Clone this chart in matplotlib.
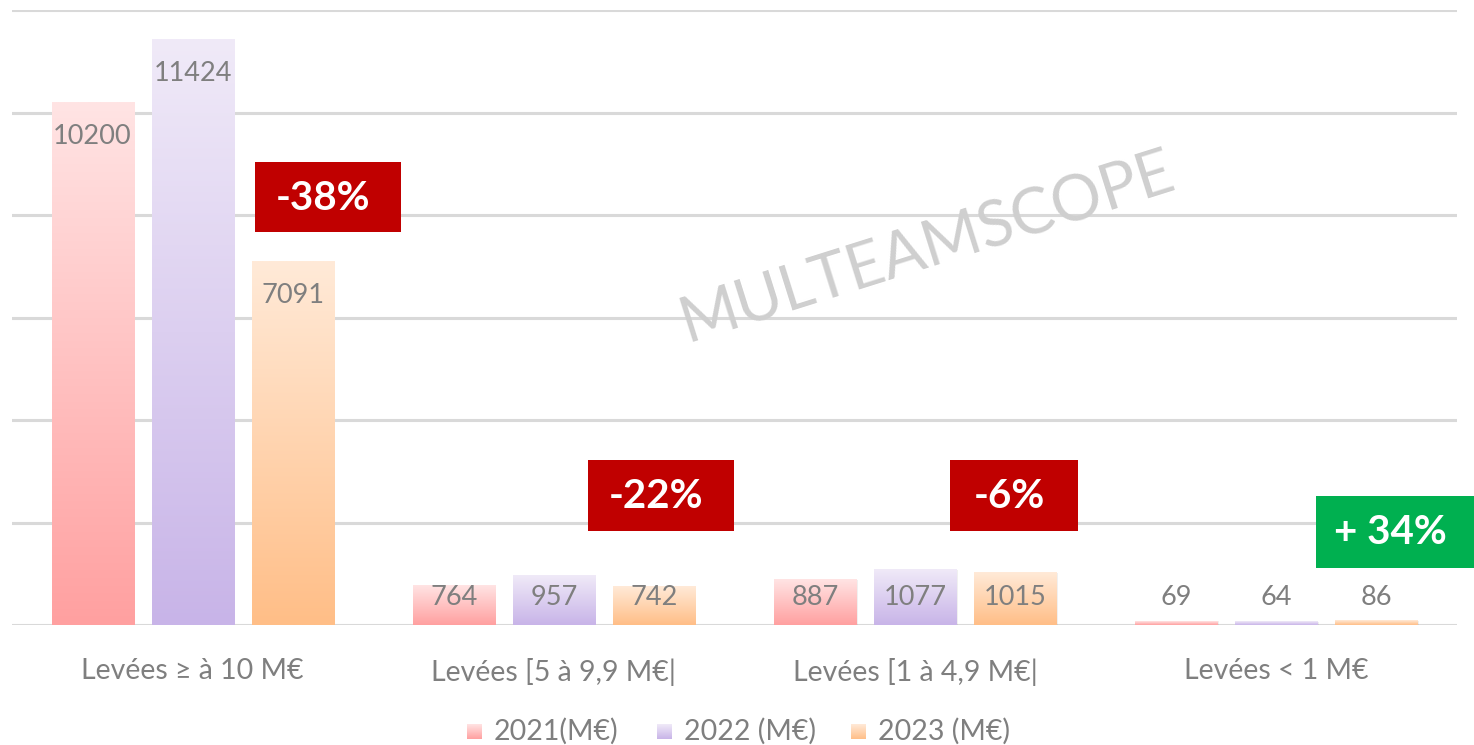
import matplotlib
matplotlib.use("Agg")
import matplotlib.pyplot as plt
import numpy as np
from matplotlib.colors import LinearSegmentedColormap
from matplotlib.patches import Rectangle

categories = ["Levées ≥ à 10 M€", "Levées [5 à 9,9 M€|", "Levées [1 à 4,9 M€|", "Levées < 1 M€"]
series_names = ["2021(M€)", "2022 (M€)", "2023 (M€)"]
v2021 = [10200, 764, 887, 69]
v2022 = [11424, 957, 1077, 64]
v2023 = [7091, 742, 1015, 86]
changes = ["-38%", "-22%", "-6%", "+ 34%"]

series = [v2021, v2022, v2023]
top_colors = ["#FFE4E4", "#F0EAF8", "#FFEAD8"]
bot_colors = ["#FFA0A0", "#C8B4E8", "#FFBE87"]
gray = "#7F7F7F"
FONT = "Lato"

W, H = 1474, 745
fig = plt.figure(figsize=(W / 100, H / 100), dpi=100)
ax = fig.add_axes([12 / W, 1 - 625 / H, (1457 - 12) / W, (625 - 10) / H])
ax.set_xlim(-0.5, 3.5)
ax.set_ylim(0, 12000)
for s in ax.spines.values():
    s.set_visible(False)
ax.set_yticks(np.arange(0, 12001, 2000))
ax.yaxis.grid(True, color="#D9D9D9", linewidth=2.2)
ax.set_axisbelow(True)
ax.tick_params(axis="y", left=False, labelleft=False)
ax.tick_params(axis="x", bottom=False, pad=20)
x = np.arange(len(categories))
ax.set_xticks(x)
ax.set_xticklabels(categories, fontsize=20.5, color=gray, family=FONT)

bw = 0.227
offs = [-0.277, 0.0, 0.277]
grad = np.linspace(0, 1, 256).reshape(-1, 1)
for i, (vals, off) in enumerate(zip(series, offs)):
    cmap = LinearSegmentedColormap.from_list("g%d" % i, [bot_colors[i], top_colors[i]])
    bars = ax.bar(x + off, vals, bw, color="none", edgecolor="none", zorder=3)
    for b, v in zip(bars, vals):
        bx, bwid = b.get_x(), b.get_width()
        ax.add_patch(Rectangle((bx + 0.004, 0), bwid, v, facecolor="#000000", alpha=0.06,
                               edgecolor="none", zorder=2.5))
        ax.imshow(grad, cmap=cmap, origin="lower", aspect="auto",
                  extent=[bx, bx + bwid, 0, v], zorder=3)
        ly = max(v - 660, 530)
        ax.text(bx + bwid / 2, ly, str(v), ha="center", va="center", fontsize=19.5,
                color=gray, family=FONT, zorder=4)

ax.set_xlim(-0.5, 3.5)
ax.set_ylim(0, 12000)

# change boxes (figure pixel coordinates)
boxes = [(255, 162, 401, 232, "#C00000"), (588, 460, 734, 531, "#C00000"),
         (950, 460, 1078, 531, "#C00000"), (1316, 496, 1474, 568, "#00B050")]
for (x0, y0, x1, y1, c), t in zip(boxes, changes):
    fig.patches.append(Rectangle((x0 / W, 1 - y1 / H), (x1 - x0) / W, (y1 - y0) / H,
                                 transform=fig.transFigure, facecolor=c, edgecolor="none", zorder=5))
    fig.text(((x0 + x1) / 2 - 5) / W, 1 - ((y0 + y1) / 2 + 1) / H, t, ha="center", va="center",
             fontsize=29, color="white", fontweight="bold", family=FONT, zorder=6)

# watermark
fig.text(927 / W, 1 - 248 / H, "MULTEAMSCOPE", rotation=17.5, ha="center", va="center",
         fontsize=45.5, color="#CFCFCF", family=FONT, fontweight="normal", zorder=6)

# legend
leg_items = [(467, series_names[0]), (657, series_names[1]), (851, series_names[2])]
for i, (lx, name) in enumerate(leg_items):
    cmap = LinearSegmentedColormap.from_list("l%d" % i, [bot_colors[i], top_colors[i]])
    lax = fig.add_axes([lx / W, 1 - 739 / H, 15 / W, 15 / H])
    lax.imshow(grad, cmap=cmap, origin="lower", aspect="auto")
    lax.axis("off")
    fig.text((lx + 27) / W, 1 - 731 / H, name, ha="left", va="center", fontsize=20.5,
             color=gray, family=FONT)

fig.savefig("out.png", dpi=100)
